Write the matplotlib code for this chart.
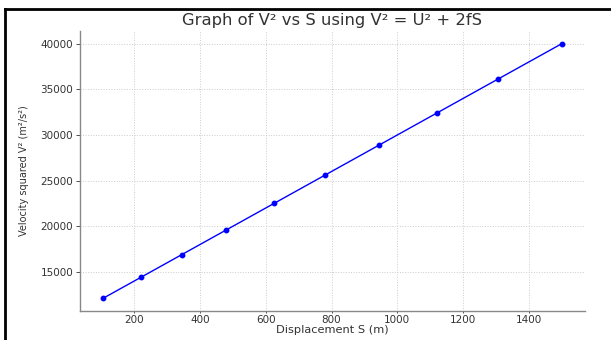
import matplotlib
matplotlib.use('Agg')
import matplotlib.pyplot as plt
from matplotlib.lines import Line2D

# displacement S (m) and velocity squared V^2 (m^2/s^2)
displacement = [105, 220, 345, 480, 625, 780, 945, 1120, 1305, 1500]
velocity_sq = [12100, 14400, 16900, 19600, 22500, 25600, 28900, 32400, 36100, 40000]

fig = plt.figure(figsize=(6.11, 3.4), dpi=100)
ax = fig.add_axes([0.131, 0.085, 0.826, 0.824])

ax.plot(displacement, velocity_sq, color='blue', marker='o', markersize=3.2, linewidth=1.0)

ax.set_title('Graph of V² vs S using V² = U² + 2fS', fontsize=11.8, color='#333333', pad=4)
ax.set_xlabel('Displacement S (m)', fontsize=8.2, color='#333333', labelpad=0)
ax.set_ylabel('Velocity squared V² (m²/s²)', fontsize=7, color='#333333', labelpad=8)

ax.tick_params(labelsize=7.5, colors='#333333', width=0.6)
ax.tick_params(axis='x', length=1.5, pad=1.5)
ax.tick_params(axis='y', length=3, pad=2)
ax.grid(True, linestyle=':', color='#cccccc', linewidth=0.7)

for side in ['top', 'right']:
	ax.spines[side].set_visible(False)
for side in ['left', 'bottom']:
	ax.spines[side].set_color('#888888')
	ax.spines[side].set_linewidth(1.0)

# screenshot frame on the left and top edge
fig.add_artist(Line2D([0.008, 0.008], [0.0, 0.974], transform=fig.transFigure, color='black', linewidth=2))
fig.add_artist(Line2D([0.008, 1.0], [0.974, 0.974], transform=fig.transFigure, color='black', linewidth=2))

fig.savefig('out.png', dpi=100)
